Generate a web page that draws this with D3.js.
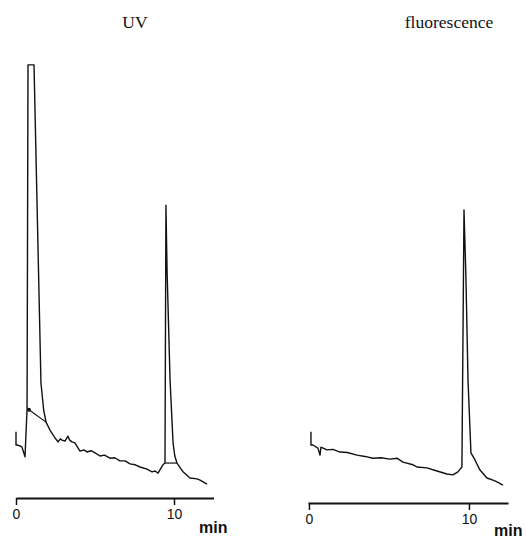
<!DOCTYPE html>
<html>
<head>
<meta charset="utf-8">
<script src="https://cdn.jsdelivr.net/npm/d3@7"></script>
<style>
  body { margin: 0; background: #fff; }
</style>
</head>
<body>
<div id="chart"></div>
<script>
// UV trace: [time (min), signal]
const uvTrace = [
    [0, 15.5], [0, 12.5], [0.06, 12.5], [0.25, 12.3], [0.38, 12.0], [0.57, 9.8],
    [0.70, 20.7], [0.76, 98.9], [1.14, 98.9], [1.58, 26.6], [1.75, 20.5], [1.90, 17.7],
    [2.15, 15.9], [2.47, 14.1], [2.66, 13.2], [2.80, 13.9], [2.91, 13.6], [3.10, 13.4],
    [3.29, 14.5], [3.40, 13.6], [3.54, 13.2], [3.73, 13.0], [4.05, 11.1], [4.30, 11.4],
    [4.49, 10.9], [4.75, 11.2], [5.00, 10.7], [5.32, 10.0], [5.60, 10.2], [5.95, 9.5],
    [6.25, 9.6], [6.58, 8.9], [6.90, 8.9], [7.22, 8.2], [7.55, 8.0], [7.85, 7.5],
    [8.29, 7.0], [8.61, 6.4], [8.80, 6.6], [8.99, 6.1], [9.30, 8.0], [9.43, 8.4],
    [9.49, 67.0], [9.56, 52.3], [9.75, 27.3], [9.94, 13.0], [10.05, 10.0], [10.19, 8.4],
    [10.57, 6.4], [11.01, 5.0], [11.46, 4.8], [11.65, 4.5], [12.09, 3.6]
];
// integration baselines drawn under the UV peaks
const uvSkims = [
    [[0.82, 20.5], [1.90, 17.7]],
    [[9.43, 8.4], [10.19, 8.4]]
];
const uvMarker = [0.82, 20.5];

// fluorescence trace: [time (min), signal]
const flTrace = [
    [0.125, 15.5], [0.125, 12.5], [0.25, 12.5], [0.56, 11.8], [0.69, 10.2], [0.75, 12.0],
    [1.125, 11.4], [1.50, 11.5], [1.94, 10.9], [2.40, 10.8], [3.0, 10.2], [3.5, 9.9],
    [4.0, 9.5], [4.5, 9.6], [5.06, 9.3], [5.5, 9.5], [5.875, 8.6], [6.5, 8.0],
    [6.75, 7.5], [7.375, 7.3], [8.0, 6.6], [8.625, 5.9], [9.0, 5.7], [9.31, 6.4],
    [9.56, 7.5], [9.69, 65.9], [9.81, 50.7], [9.94, 27.3], [10.125, 10.7],
    [10.375, 9.1], [10.69, 6.8], [11.125, 5.0], [11.5, 4.5], [11.75, 4.1], [12.125, 3.4]
];

const tickValues = [0, 10];
const titles = ["UV", "fluorescence"];
const unitLabel = "min";

const width = 527;
const height = 538;

const svg = d3.select("#chart")
    .append("svg")
    .attr("width", width)
    .attr("height", height);

const y = d3.scaleLinear().domain([0, 100]).range([500, 60]);

const panels = [
    { trace: uvTrace, x: d3.scaleLinear().domain([0, 12.5]).range([16, 213.5]), axisY: 498,
      title: titles[0], titleX: 135, minX: 199, minY: 533 },
    { trace: flTrace, x: d3.scaleLinear().domain([-0.06, 12.44]).range([308, 508]), axisY: 503,
      title: titles[1], titleX: 449, minX: 494, minY: 536 }
];

panels.forEach((p, i) => {
    const line = d3.line()
        .x(d => p.x(d[0]))
        .y(d => y(d[1]));

    svg.append("path")
        .datum(p.trace)
        .attr("d", line)
        .attr("fill", "none")
        .attr("stroke", "#111")
        .attr("stroke-width", 1.4)
        .attr("stroke-linejoin", "round");

    if (i === 0) {
        uvSkims.forEach(s => {
            svg.append("path")
                .datum(s)
                .attr("d", line)
                .attr("fill", "none")
                .attr("stroke", "#111")
                .attr("stroke-width", 1.2);
        });
        svg.append("circle")
            .attr("cx", p.x(uvMarker[0]))
            .attr("cy", y(uvMarker[1]))
            .attr("r", 2)
            .attr("fill", "#111");
    }

    // AXIS
    const axis = d3.axisBottom(p.x)
        .tickValues(tickValues)
        .tickSizeInner(7)
        .tickSizeOuter(0)
        .tickPadding(4);

    const g = svg.append("g")
        .attr("transform", `translate(0,${p.axisY})`)
        .call(axis);

    g.select(".domain").attr("stroke", "#111").attr("stroke-width", 2);
    g.selectAll(".tick line").attr("stroke", "#111").attr("stroke-width", 1.5);
    g.selectAll(".tick text")
        .attr("fill", "#111")
        .style("font-family", "Liberation Sans, Arial, sans-serif")
        .style("font-size", "14px");

    svg.append("text")
        .attr("x", p.minX)
        .attr("y", p.minY)
        .text(unitLabel)
        .style("font-family", "Liberation Sans, Arial, sans-serif")
        .style("font-weight", "bold")
        .style("font-size", "16px")
        .attr("fill", "#111");

    // TITLE
    svg.append("text")
        .attr("x", p.titleX)
        .attr("y", 28)
        .attr("text-anchor", "middle")
        .text(p.title)
        .style("font-family", "Liberation Serif, Times New Roman, serif")
        .style("font-size", "17.5px")
        .attr("fill", "#111");
});
</script>
</body>
</html>
